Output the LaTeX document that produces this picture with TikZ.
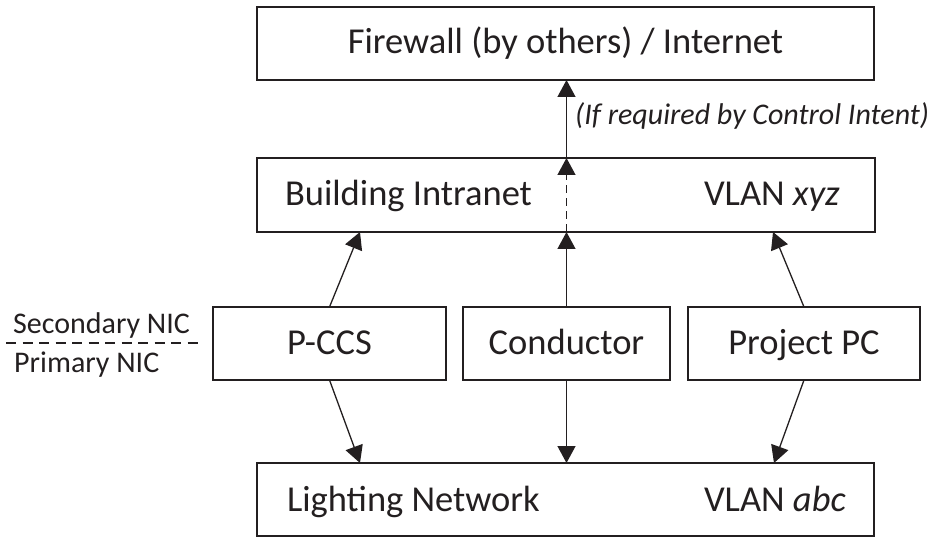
\documentclass[tikz,border=0pt]{standalone}
\usepackage{fontspec}
\setmainfont{Carlito}
\usetikzlibrary{arrows.meta,calc}
\definecolor{ink}{RGB}{35,31,32}
\begin{document}
\begin{tikzpicture}[x=1pt,y=-1pt,
  box/.style={draw=ink,line width=1.4pt,inner sep=0pt,outer sep=0pt},
  txt/.style={font=\fontsize{36.5}{40}\selectfont,text=ink,inner sep=0pt,outer sep=0pt},
  itxt/.style={font=\fontsize{30}{34}\selectfont\itshape,text=ink,inner sep=0pt},
  stxt/.style={font=\fontsize{30}{34}\selectfont,text=ink,inner sep=0pt},
  arr/.style={draw=ink,line width=1.3pt,-{Triangle[width=18pt,length=17pt]}},
  dsh/.style={draw=ink,line width=1.3pt,dash pattern=on 10pt off 6.5pt},
  vdsh/.style={draw=ink,line width=1.3pt,dash pattern=on 8pt off 5pt}]
\useasboundingbox (0,0) rectangle (935,537);
% boxes
\node[box,minimum width=617pt,minimum height=73pt] (fw) at (565.5,43.5) {};
\node[box,minimum width=618pt,minimum height=74pt] (bi) at (566,195) {};
\node[box,minimum width=233pt,minimum height=73pt] (pccs) at (329.5,343.5) {};
\node[box,minimum width=207pt,minimum height=73pt] (cond) at (566.5,343.5) {};
\node[box,minimum width=232pt,minimum height=73pt] (ppc) at (804,343.5) {};
\node[box,minimum width=617pt,minimum height=73pt] (ln) at (565.5,499.5) {};
% texts
\node[txt,anchor=base] (fwt) at (565.5,54) {Firewall (by others) / Internet};
\node[txt,anchor=base west] (bit) at (285,206) {Building Intranet};
\node[txt,anchor=base west] (bix) at (704,206) {VLAN \textit{xyz}};
\node[txt,anchor=base] (pccst) at (329.5,355) {P-CCS};
\node[txt,anchor=base] (condt) at (566.5,355) {Conductor};
\node[txt,anchor=base] (ppct) at (804,355) {Project PC};
\node[txt,anchor=base west] (lnt) at (287,511) {Lighting Network};
\node[txt,anchor=base west] (lnx) at (704,511) {VLAN \textit{abc}};
\node[itxt,anchor=base west] (note) at (575,125) {(If required by Control Intent)};
\node[stxt,anchor=base west] (sec) at (13,334) {Secondary NIC};
\node[stxt,anchor=base west] (pri) at (14,373) {Primary NIC};
% NIC divider
\coordinate (nicL) at (6,343);
\coordinate (nicR) at (203,343);
\draw[dsh] (nicL) -- (nicR);
% connector points
\coordinate (bis) at (cond.north |- bi.south);
\coordinate (bin) at (cond.north |- bi.north);
\coordinate (fws) at (cond.north |- fw.south);
% arrows
\draw[arr] (pccs.north) -- ($(pccs.north |- bi.south)+(30.5,0)$);
\draw[arr] (pccs.south) -- ($(pccs.south |- ln.north)+(30.5,0)$);
\draw[arr] (cond.north) -- (bis);
\draw[arr] (cond.south) -- (cond.south |- ln.north);
\draw[arr] (ppc.north) -- ($(ppc.north |- bi.south)+(-31,0)$);
\draw[arr] (ppc.south) -- ($(ppc.south |- ln.north)+(-30,0)$);
\draw[vdsh,-{Triangle[width=18pt,length=17pt]}] (bis) -- (bin);
\draw[arr] (bin) -- (fws);
\end{tikzpicture}
\end{document}
